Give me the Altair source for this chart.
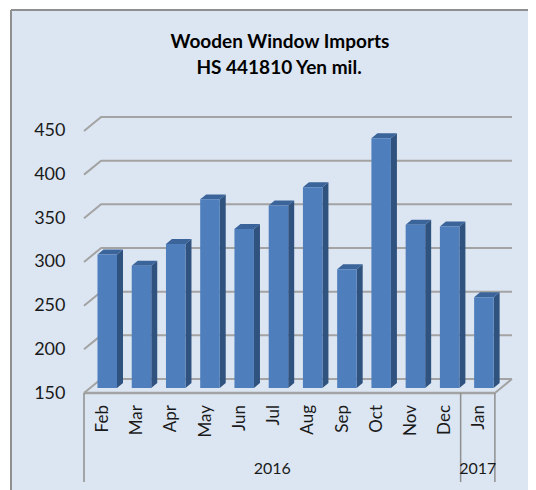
import altair as alt
import pandas as pd

months = ["Feb", "Mar", "Apr", "May", "Jun", "Jul", "Aug", "Sep", "Oct", "Nov", "Dec", "Jan"]
values = [303, 290, 315, 366, 332, 359, 380, 286, 436, 337, 335, 254]
years = ["2016", "2017"]
year_spans = [(0, 11), (11, 12)]
ticks = [150, 200, 250, 300, 350, 400, 450]
title_lines = ["Wooden Window Imports", "HS 441810 Yen mil."]

PANEL, BORDER = "#DCE6F2", "#8F8F8F"
GRID = "#A3A3A3"
FRONT, SIDE, CAP = "#4E7EBC", "#30527F", "#3A649A"
INK = "#1A1A1A"
FONT = "Lato"

W, H = 428, 276
PAD = dict(left=76, top=109, right=16, bottom=97)
xs = alt.Scale(domain=[0, 12.5], nice=False, zero=False)
ys = alt.Scale(domain=[150, 466], nice=False, zero=False)
yax = alt.Axis(values=ticks, title=None, grid=False, domain=False, ticks=False, zindex=1,
               labelFont=FONT, labelFontSize=18, labelColor=INK, labelPadding=19)
X = lambda f: alt.X(f, type="quantitative", scale=xs, axis=None)
Y = lambda f: alt.Y(f, type="quantitative", scale=ys, axis=yax)

# 3-D projection offsets, in data units
WALL_X, WALL_Y = 0.5, 16
BAR_L, BAR_R = 0.394, 0.964
DX, DY = 0.175, 5.7
BASE = 150 + DY

grid_rows = []
for t in ticks:
    for x, y in [(0, t), (WALL_X, t + WALL_Y), (12 + WALL_X, t + WALL_Y)]:
        grid_rows.append(dict(t=t, x=x, y=y))
for x, y in [(12, 150), (12 + WALL_X, 150 + WALL_Y)]:
    grid_rows.append(dict(t=0, x=x, y=y))
grid_df = pd.DataFrame(grid_rows)

front_rows, side_rows, cap_rows = [], [], []
for i, v in enumerate(values):
    top = v + DY
    xl, xr = i + BAR_L, i + BAR_R
    front_rows.append(dict(x=xl, x2=xr, y=BASE, y2=top))
    side_rows += [dict(b=i, x=xr, y=BASE, y2=top), dict(b=i, x=xr + DX, y=BASE + DY, y2=top + DY)]
    cap_rows += [
        dict(b=i, x=xl, y=top, y2=top),
        dict(b=i, x=xl + DX, y=top, y2=top + DY),
        dict(b=i, x=xr, y=top, y2=top + DY),
        dict(b=i, x=xr + DX, y=top + DY, y2=top + DY),
    ]

one = pd.DataFrame({"a": [0]})
TOP = -107
panel = alt.Chart(one).mark_rect(fill=PANEL, stroke=None, clip=False).encode(
    x=alt.value(-73), x2=alt.value(W + PAD["right"] + 5), y=alt.value(TOP), y2=alt.value(H + PAD["bottom"] + 5))
b_top = alt.Chart(one).mark_rule(color=BORDER, strokeWidth=2).encode(
    x=alt.value(-73), x2=alt.value(W + PAD["right"]), y=alt.value(TOP))
b_left = alt.Chart(one).mark_rule(color=BORDER, strokeWidth=2).encode(
    x=alt.value(-73), y=alt.value(TOP), y2=alt.value(H + PAD["bottom"]))

grid = alt.Chart(grid_df).mark_line(color=GRID, strokeWidth=2, clip=False).encode(
    x=X("x"), y=Y("y"), detail="t:N", order=alt.Order("x:Q"))

side = alt.Chart(pd.DataFrame(side_rows)).mark_area(color=SIDE, clip=False).encode(
    x=X("x"), y=Y("y"), y2="y2:Q", detail="b:N")
cap = alt.Chart(pd.DataFrame(cap_rows)).mark_area(color=CAP, clip=False).encode(
    x=X("x"), y=Y("y"), y2="y2:Q", detail="b:N")
front = alt.Chart(pd.DataFrame(front_rows)).mark_rect(color=FRONT, clip=False).encode(
    x=X("x"), x2="x2:Q", y=Y("y"), y2="y2:Q")

axis_line = alt.Chart(pd.DataFrame({"x": [0], "x2": [12], "y": [150]})).mark_rule(color=GRID, strokeWidth=2.5).encode(
    x=X("x"), x2="x2:Q", y=Y("y"))
seps = alt.Chart(pd.DataFrame({"x": [0, 11, 12]})).mark_rule(color=BORDER, strokeWidth=1.5).encode(
    x=X("x"), y=alt.value(H), y2=alt.value(H + 89))

month_df = pd.DataFrame({"m": months, "x": [i + 0.55 for i in range(len(months))]})
month_text = alt.Chart(month_df).mark_text(
    angle=270, align="right", baseline="middle", font=FONT, fontSize=17, color=INK, clip=False
).encode(x=X("x"), y=alt.value(H + 12), text="m:N")

year_df = pd.DataFrame({"t": years, "x": [(a + b) / 2 for a, b in year_spans]})
year_text = alt.Chart(year_df).mark_text(
    align="center", baseline="middle", font=FONT, fontSize=16, color=INK, clip=False
).encode(x=X("x"), y=alt.value(H + 76), text="t:N")

title_layers = [
    alt.Chart(pd.DataFrame({"t": [line]})).mark_text(
        align="center", baseline="middle", font=FONT, fontSize=19, fontWeight="bold", color="#000000", clip=False
    ).encode(x=alt.value(x), y=alt.value(y), text="t:N")
    for line, x, y in zip(title_lines, [196, 195], [-75, -49])
]

chart = alt.layer(
    panel, b_top, b_left, grid, side, cap, front, axis_line, seps, month_text, year_text, *title_layers
).properties(
    width=W, height=H,
    padding=PAD,
    autosize=alt.AutoSizeParams(type="none"),
).configure_view(stroke=None)

chart.save("out.html", embed_options={"renderer": "svg", "actions": False})
